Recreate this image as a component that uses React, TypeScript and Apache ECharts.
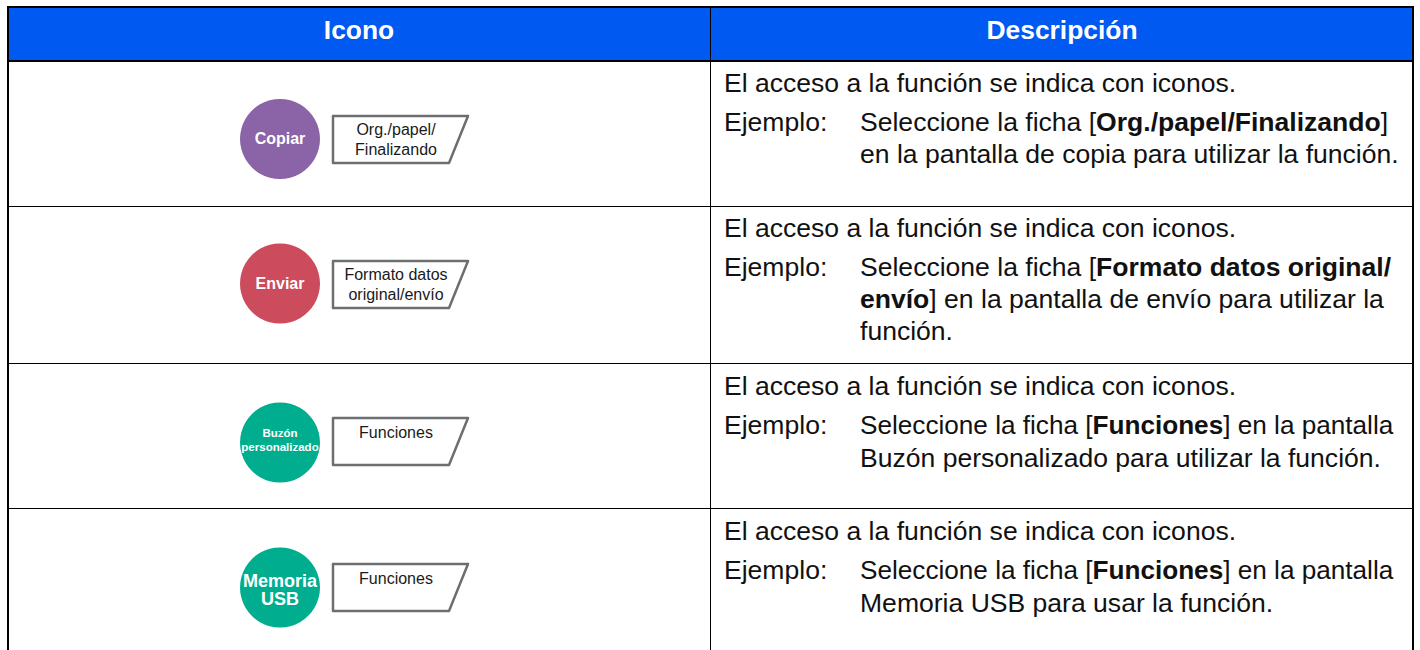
import React, { useEffect, useRef } from "react";
import * as echarts from "echarts";

const headers = ["Icono", "Descripción"];
const intro = "El acceso a la función se indica con iconos.";
const exampleLabel = "Ejemplo:";
const circleLabels = ["Copiar", "Enviar", "Buzón\npersonalizado", "Memoria\nUSB"];
const tabLabels = ["Org./papel/\nFinalizando", "Formato datos\noriginal/envío", "Funciones", "Funciones"];
const circleColors = ["#8b64a8", "#cc4b5c", "#00ae8f", "#00ae8f"];
const examples = [
  ["Seleccione la ficha [{b|Org./papel/Finalizando}]", "en la pantalla de copia para utilizar la función."],
  ["Seleccione la ficha [{b|Formato datos original/}", "{b|envío}] en la pantalla de envío para utilizar la", "función."],
  ["Seleccione la ficha [{b|Funciones}] en la pantalla", "Buzón personalizado para utilizar la función."],
  ["Seleccione la ficha [{b|Funciones}] en la pantalla", "Memoria USB para usar la función."],
];

const FONT = "Liberation Sans, Arial, sans-serif";
const rowLines = [206.5, 363.5, 508.5];
const circleCy = [139, 283.5, 442.5, 587.5];
const tabTop = [116, 261, 418, 564];
const labelCy = [139.5, 284.5, 432, 578];
const circleTextCy = [138.5, 283.5, 440, 590];
const introBase = [92, 237, 395, 540];
const exampleBase = [
  [131, 163],
  [276, 308, 340],
  [434, 467],
  [579, 612],
];
const L = 8, R = 1413;
const BODY = 26.55;
const BASE_OFF = 9.3;

const TabShape = echarts.graphic.extendPath("M0 0L135 0L116 47L0 47Z", {} as any);
echarts.graphic.registerShape("tabShape", TabShape as any);

function line(x1: number, y1: number, x2: number, y2: number, w: number) {
  return { type: "line", shape: { x1, y1, x2, y2 }, style: { stroke: "#000", lineWidth: w }, z: 5 };
}
function text(x: number, y: number, t: string, size: number, fill: string, extra: any = {}) {
  return { type: "text", x, y, z: 6, style: { text: t, fontFamily: FONT, fontSize: size, fill, ...extra } };
}

function build() {
  const els: any[] = [];
  els.push({ type: "rect", shape: { x: L, y: 7, width: R - L, height: 54 }, style: { fill: "#0059f0" }, z: 1 });
  els.push(text(359, 30, headers[0], 26.4, "#fff", { fontWeight: "bold", align: "center", verticalAlign: "middle" }));
  els.push(text(1062, 30, headers[1], 26.4, "#fff", { fontWeight: "bold", align: "center", verticalAlign: "middle" }));
  els.push(line(L - 1, 7, R + 1, 7, 2));
  els.push(line(L - 1, 61, R + 1, 61, 2));
  els.push(line(8, 6, 8, 650, 2));
  els.push(line(1413, 6, 1413, 650, 2));
  els.push(line(710.5, 7, 710.5, 650, 1));
  rowLines.forEach((y) => els.push(line(L, y, R, y, 1)));

  circleCy.forEach((cy, i) => {
    els.push({ type: "circle", shape: { cx: 280, cy, r: 40 }, style: { fill: circleColors[i] }, z: 3 });
    const size = i === 2 ? 11.5 : i === 3 ? 18 : 16;
    els.push(text(280, circleTextCy[i], circleLabels[i], size, "#fff", {
      fontWeight: "bold", align: "center", verticalAlign: "middle", lineHeight: i === 2 ? 13.5 : i === 3 ? 18 : 16,
    }));
    els.push({ type: "tabShape", x: 333, y: tabTop[i], z: 3, style: { fill: "#fff", stroke: "#6d6e71", lineWidth: 2.5, lineJoin: "round" } });
    els.push(text(396, labelCy[i], tabLabels[i], 16, "#1a1a1a", {
      align: "center", verticalAlign: "middle", lineHeight: 19.5,
    }));

    els.push(text(724, introBase[i] - BASE_OFF, intro, BODY, "#111", { verticalAlign: "middle" }));
    els.push(text(724, exampleBase[i][0] - BASE_OFF, exampleLabel, BODY, "#111", { verticalAlign: "middle" }));
    examples[i].forEach((ln, j) => {
      const size = ln.includes("{b|Funciones}") ? 26.15 : BODY;
      els.push({
        type: "text", x: 860, y: exampleBase[i][j] - BASE_OFF, z: 6,
        style: {
          text: ln, fontFamily: FONT, fontSize: size, fill: "#111", verticalAlign: "middle",
          rich: { b: { fontFamily: FONT, fontSize: size, fontWeight: "bold", fill: "#111" } },
        },
      });
    });
  });
  return els;
}

export default function App() {
  const ref = useRef<HTMLDivElement>(null);
  useEffect(() => {
    const chart = echarts.init(ref.current!, undefined, { renderer: "svg" });
    chart.setOption({ animation: false, backgroundColor: "#fff", graphic: { elements: build() } });
    return () => chart.dispose();
  }, []);
  return <div ref={ref} style={{ position: "absolute", left: 0, top: 0, width: 1420, height: 650 }} />;
}
